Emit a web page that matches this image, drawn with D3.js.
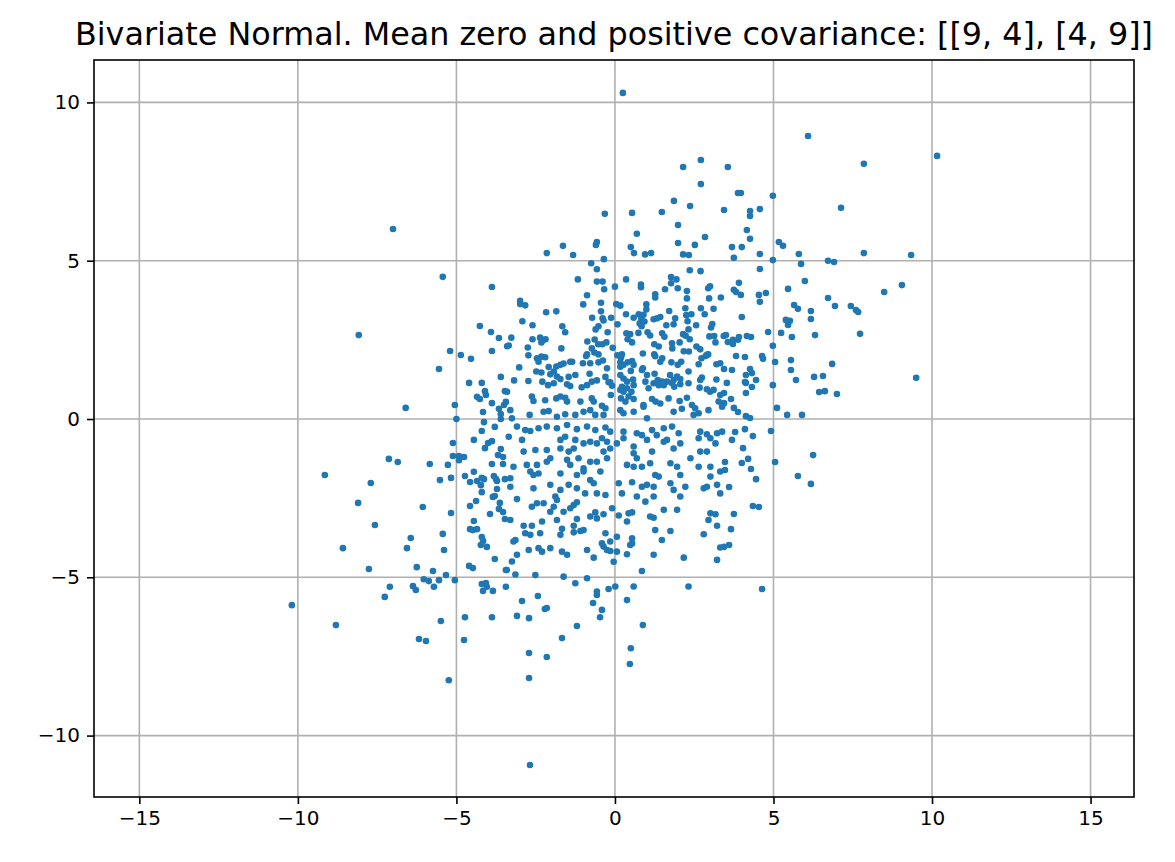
<!DOCTYPE html>
<html>
<head>
<meta charset="utf-8">
<script src="https://cdn.jsdelivr.net/npm/d3@7"></script>
<style>
  body { margin: 0; background: #fff; }
  svg text { font-family: "DejaVu Sans", sans-serif; }
</style>
</head>
<body>
<div id="chart"></div>
<script>
const titleText = "Bivariate Normal. Mean zero and positive covariance: [[9, 4], [4, 9]]";
const xTicks = [-15, -10, -5, 0, 5, 10, 15];
const yTicks = [-10, -5, 0, 5, 10];
const xDomain = [-16.43, 16.37];
const yDomain = [-11.94, 11.34];

// points, upper half (y > 5 roughly) and outliers
const upperPts = [
  [0.25,10.3],[6.09,8.94],[10.16,8.31],[7.85,8.06],[2.71,8.18],[2.15,7.96],[2.71,7.42],
  [1.86,6.89],[2.37,6.73],[1.48,6.54],[0.54,6.51],[-0.32,6.48],[1.99,6.13],[0.69,5.85],
  [1.99,5.56],[2.84,5.75],[2.52,5.5],[0.5,5.43],[-0.57,5.59],[-0.6,5.5],[-1.64,5.47],
  [-2.15,5.24],[-1.32,5.18],[0.6,5.24],[0.95,5.2],[1.14,5.24],[2.15,5.2],[2.33,5.18],
  [3.44,6.6],[3.56,7.96],[3.88,7.14],[3.97,7.14],[4.98,7.05],[4.26,6.57],[4.26,6.41],
  [4.57,6.63],[7.13,6.67],[4.16,5.97],[4.26,5.69],[3.69,5.43],[4.0,5.43],[4.57,5.21],
  [5.17,5.59],[5.3,5.47],[5.8,5.21],[7.85,5.24],[9.34,5.18],[-7.0,6.0]
];

// left side, above zero
const leftUpPts = [
  [-5.43,4.49],[-3.88,4.17],[-8.08,2.65],[-4.26,2.94],[-3.91,2.75],[-3.66,2.56],[-5.2,2.15],
  [-4.86,2.02],[-4.54,1.9],[-3.88,2.15],[-5.55,1.58],[-4.6,1.14],[-4.2,1.14],[-4.1,0.88],
  [-4.07,0.76],[-4.35,0.7],[-4.26,0.63],[-3.6,1.33],[-3.47,0.88],[-3.88,0.5],[-3.44,0.54],
  [-3.5,0.44],[-3.66,0.32],[-3.6,0.16],[-3.6,0.0],[-6.6,0.35],[-5.05,0.44],[-4.16,0.22],
  [-4.13,-0.1],[-5.0,0.0],[-3.4,2.3]
];

// left side, below zero
const leftLowPts = [
  [-9.15,-1.77],[-7.7,-2.02],[-7.13,-1.26],[-6.85,-1.36],[-8.1,-2.65],[-7.57,-3.35],
  [-8.58,-4.08],[-7.76,-4.74],[-6.06,-2.78],[-5.84,-1.42],[-6.44,-3.76],[-6.56,-4.08],
  [-6.25,-4.68],[-5.74,-4.8],[-5.43,-3.63],[-5.39,-4.14],[-5.17,-2.97],[-5.27,-1.45],
  [-5.52,-1.93],[-5.17,-1.86],[-5.11,-0.76],[-5.11,-1.17],[-4.92,-1.17],[-4.76,-1.2],
  [-4.92,-1.3],[-5.33,-4.93],[-6.03,-5.06],[-5.87,-5.12],[-5.55,-5.09],[-5.05,-5.09],
  [-7.1,-5.3],[-6.37,-5.28],[-6.28,-5.4],[-5.71,-5.3],[-4.45,-0.66],[-4.2,-0.38],
  [-3.79,-0.25],[-4.1,-0.92],[-4.0,-0.76],[-3.88,-0.7],[-3.6,-0.95],[-3.69,-1.14],
  [-3.53,-1.2],[-3.88,-1.42],[-3.53,-1.42],[-4.73,-1.8],[-4.45,-1.67],[-4.57,-1.99],
  [-4.35,-1.96],[-4.2,-1.86],[-4.13,-1.9],[-4.23,-2.09],[-4.2,-2.31],[-3.82,-1.8],
  [-3.72,-1.96],[-3.75,-1.9],[-3.47,-1.9],[-3.72,-2.21],[-3.85,-2.46],[-3.79,-2.43],
  [-3.63,-2.65],[-4.38,-2.59],[-4.57,-2.75],[-3.66,-2.84],[-3.53,-2.94],[-3.94,-3.0],
  [-4.45,-3.22],[-4.57,-3.48],[-4.48,-3.51],[-4.35,-3.48],[-3.47,-3.16],[-4.2,-3.73],
  [-4.16,-3.85],[-4.23,-3.98],[-4.04,-4.04],[-3.79,-4.42],[-4.6,-4.64],[-4.48,-4.71],
  [-3.44,-4.77],[-4.2,-5.21],[-4.07,-5.18],[-4.04,-5.3],[-4.16,-5.43],[-3.85,-5.43],
  [-3.44,-5.3]
];

// bottom tail
const lowerPts = [
  [-10.19,-5.88],[-8.8,-6.51],[-7.26,-5.62],[-6.18,-6.95],[-5.96,-7.01],[-5.49,-6.38],
  [-5.24,-8.25],[-4.73,-6.26],[-4.76,-6.98],[-3.88,-6.26],[-2.93,-5.75],[-2.43,-5.59],
  [-3.09,-6.22],[-2.71,-6.29],[-2.21,-6.0],[-2.15,-5.97],[-1.67,-6.92],[-1.2,-6.54],
  [-2.71,-7.39],[-2.15,-7.52],[-2.71,-8.18],[-2.68,-10.93],[-0.69,-5.81],[-0.41,-6.03],
  [-0.47,-6.26],[-0.57,-5.56],[0.38,-5.72],[0.88,-6.51],[0.5,-7.24],[0.47,-7.74]
];

// right side, below zero
const rightLowPts = [
  [3.79,-0.41],[4.1,-0.32],[4.92,-0.38],[4.35,-0.54],[3.69,-0.66],[4.04,-0.92],[3.47,-1.36],
  [3.47,-1.61],[4.0,-1.39],[4.2,-1.26],[4.29,-1.58],[4.45,-1.9],[5.05,-1.36],[6.25,-1.14],
  [5.77,-1.8],[6.18,-2.05],[3.6,-2.15],[4.35,-2.75],[4.54,-2.78],[3.75,-3.0],[3.66,-3.48],
  [3.6,-3.98],[3.44,-4.04],[4.64,-5.37]
];

// right side, above zero
const rightUpPts = [
  [3.75,5.09],[4.98,5.02],[6.72,5.0],[6.91,4.96],[5.87,4.9],[4.57,4.74],[5.99,4.36],
  [3.91,4.3],[3.75,4.08],[3.82,4.01],[3.97,3.92],[4.54,3.92],[4.76,3.98],[4.57,3.7],
  [5.46,4.11],[8.49,4.01],[9.05,4.23],[6.72,3.82],[6.94,3.57],[7.44,3.57],[7.6,3.44],
  [7.67,3.38],[5.65,3.6],[5.77,3.48],[6.18,3.41],[6.18,3.16],[4.0,3.22],[5.39,3.13],
  [5.52,3.1],[5.46,2.97],[7.73,2.69],[6.31,2.65],[5.58,2.59],[5.24,2.72],[4.83,2.75],
  [4.98,2.31],[3.5,2.65],[4.16,2.62],[4.29,2.59],[3.56,2.43],[3.72,2.5],[3.72,2.37],
  [3.88,2.5],[3.91,2.59],[3.82,1.99],[4.1,1.96],[4.64,1.99],[4.67,1.9],[5.05,1.8],
  [5.55,1.86],[6.85,1.74],[5.55,1.55],[3.44,1.58],[3.69,1.55],[4.26,1.58],[4.32,1.45],
  [4.13,1.39],[4.45,1.23],[4.1,1.17],[4.13,1.14],[3.53,1.14],[5.71,1.23],[6.28,1.33],
  [6.56,1.36],[9.5,1.3],[4.32,1.01],[4.98,1.07],[6.44,0.85],[6.62,0.88],[7.0,0.79],
  [4.13,0.82],[3.44,0.82],[3.66,0.63],[3.75,0.35],[3.88,0.22],[3.44,0.5],[5.11,0.35],
  [5.43,0.13],[5.9,0.13],[4.13,0.09],[4.26,0.03]
];

// dense core, upper half
const coreUpPts = [
  [-0.35,5.05],[-0.75,4.92],[-0.57,4.73],[-1.17,4.41],[-0.57,4.34],[-0.39,4.34],[-0.34,4.1],
  [0,4.18],[0.35,4.41],[0.82,4.25],[0.82,4.16],[1.77,4.48],[1.94,4.41],[2.36,4.7],[2.7,4.67],
  [1.77,4.29],[1.98,4.13],[1.58,4.1],[2.27,4.04],[2.94,4.13],[3.0,4.19],[1.27,3.94],
  [1.27,3.84],[2.27,3.81],[2.97,3.81],[3.34,3.84],[-0.88,3.91],[-2.99,3.73],[-2.83,3.59],
  [-2.99,3.63],[-1.0,3.62],[-0.44,3.67],[0.04,3.63],[0.17,3.58],[0.99,3.62],[0.99,3.46],
  [-2.17,3.37],[-1.85,3.4],[-0.44,3.4],[0.35,3.31],[0.59,3.2],[0.75,3.31],[0.83,3.18],
  [0.9,3.29],[1.22,3.15],[1.43,3.22],[1.33,3.18],[1.71,3.41],[2.22,3.5],[2.41,3.31],
  [2.25,3.28],[2.71,3.5],[2.83,3.31],[3.11,3.48],[-0.72,3.2],[-0.36,3.11],[-0.39,3.18],
  [-0.12,3.2],[0.08,2.99],[-2.92,3.09],[-2.6,2.96],[-1.66,2.93],[-1.57,2.74],[-0.61,2.83],
  [-0.52,2.93],[-0.23,2.74],[0.78,3.02],[0.84,2.93],[0.93,3.08],[1.03,2.74],[1.11,2.64],
  [0.74,2.72],[0.36,2.71],[0.48,2.68],[1.62,2.96],[1.85,2.99],[1.9,3.18],[2.29,3.09],
  [2.56,2.96],[2.32,2.83],[3.07,3.0],[3.03,2.89],[1.49,2.71],[1.56,2.6],[2.15,2.68],
  [2.23,2.63],[2.36,2.52],[2.98,2.61],[3.13,2.62],[3.43,2.62],[-3.27,2.57],[-2.6,2.52],
  [-2.36,2.57],[-2.27,2.49],[-2.32,2.42],[-2.19,2.52],[-3.35,2.32],[-2.75,2.26],
  [-1.69,2.23],[-0.87,2.45],[-0.64,2.51],[-0.73,2.23],[-0.88,2.04],[-0.53,2.36],
  [-0.4,2.36],[-0.27,2.42],[-0.07,2.25],[0.4,2.52],[0.54,2.42],[1.24,2.36],[1.38,2.29],
  [1.8,2.39],[2.04,2.42],[1.81,2.23],[2.57,2.29],[3.17,2.42],[2.17,2.14],[2.33,2.13],
  [2.69,2.2],[2.94,2.04],[2.86,1.99],[-2.73,2.01],[1.24,2.04],[1.27,1.98],[0.88,2.07],
  [0.08,2.01],[0.19,1.94],[0.22,2.04],[-0.65,2.1],[-0.52,2.04],[-0.91,1.99],[-2.46,1.92],
  [-2.32,1.97],[-2.2,1.95],[-2.41,1.81],[-1.85,1.66],[-1.72,1.71],[-1.62,1.75],[-1.41,1.81],
  [-1.35,1.81],[-1.01,1.76],[-0.78,1.76],[-0.52,1.79],[-0.38,1.85],[-0.25,1.6],[0.17,1.79],
  [0.17,1.65],[0.27,1.71],[0.4,1.79],[0.54,1.83],[0.59,1.71],[0.88,1.6],[1.43,1.81],
  [1.49,1.92],[1.78,1.79],[1.98,1.71],[2.09,1.81],[2.32,1.5],[2.64,1.73],[2.73,1.92],
  [2.9,2.03],[3.2,1.73],[3.32,1.76],[-3.02,1.63],[-2.48,1.5],[-2.32,1.47],[-2.09,1.64],
  [-2.04,1.41],[-1.93,1.5],[-1.83,1.34],[-1.72,1.26],[-1.46,1.33],[-1.25,1.39],[-0.8,1.43],
  [-0.3,1.33],[-0.2,1.16],[0.17,1.39],[0.27,1.28],[0.38,1.18],[0.22,1.02],[0.5,1.52],
  [0.57,1.25],[0.59,1.07],[0.85,1.55],[1.01,1.39],[1.25,1.43],[1.35,1.23],[1.74,1.39],
  [1.85,1.23],[1.96,1.34],[2.06,1.26],[1.64,1.18],[1.8,1.13],[2.32,1.13],[2.69,1.23],
  [2.74,1.31],[3.2,1.25],[-3.18,1.22],[-2.73,1.2],[-2.29,1.18],[-2.11,1.07],[-1.93,1.13],
  [-1.51,1.1],[-1.41,1.04],[-1.05,1.0],[-0.88,1.07],[-0.73,1.18],[-0.57,1.22],[-0.15,1.16],
  [-0.09,1.05],[0.17,0.92],[0.27,0.86],[0.38,0.97],[0.52,0.86],[0.96,1.18],[1.06,0.97],
  [1.22,1.13],[1.38,1.07],[1.54,1.07],[1.49,1.18],[1.87,1.02],[2.06,1.1],[2.67,0.99],
  [2.9,0.94],[3.0,0.86],[3.11,0.92],[3.32,0.76],[-3.4,0.86],[-2.62,0.71],[-2.57,0.57],
  [-2.2,0.59],[-1.85,0.65],[-1.72,0.71],[-1.57,0.67],[-1.51,0.55],[-1.09,0.55],[-0.73,0.65],
  [-0.67,0.55],[-0.41,0.42],[-0.3,0.34],[-0.13,0.76],[0.19,0.65],[0.33,0.55],[0.43,0.71],
  [0.59,0.63],[0.9,0.44],[1.17,0.63],[1.28,0.55],[1.43,0.49],[1.69,0.65],[2.04,0.57],
  [2.27,0.67],[2.43,0.44],[2.53,0.34],[2.95,0.28],[3.27,0.55],[3.38,0.39],[-3.3,0.28],
  [-3.25,0.02],[-2.69,0.13],[-2.25,0.23],[-2.09,0.25],[-1.83,0.07],[-1.57,0.15],[-1.25,0.13],
  [-0.99,0.23],[-0.78,0.28],[-0.62,0.13],[-0.36,0.13],[0.17,0.28],[0.27,0.18],[0.59,0.23],
  [0.9,0.39],[1.01,0.02],[1.85,0.23],[2.11,0.32],[2.48,0.13],[2.64,0.18]
];

// dense core, lower half
const coreLowPts = [
  [-3.09,-0.24],[-2.83,-0.35],[-2.67,-0.38],[-2.41,-0.29],[-2.15,-0.24],[-1.83,-0.29],
  [-1.51,-0.19],[-1.2,-0.32],[-0.88,-0.24],[-0.62,-0.35],[-0.3,-0.27],[-0.15,-0.4],
  [0.27,-0.4],[0.69,-0.45],[0.85,-0.51],[1.17,-0.35],[1.32,-0.51],[1.54,-0.29],[1.8,-0.24],
  [2.01,-0.45],[2.69,-0.4],[2.9,-0.48],[3.22,-0.45],[3.38,-0.4],[-3.35,-0.56],[-2.93,-0.66],
  [-1.72,-0.66],[-1.57,-0.56],[-1.25,-0.66],[-0.99,-0.77],[-0.78,-0.72],[-0.57,-0.77],
  [-0.41,-0.61],[-0.25,-0.72],[0.06,-0.77],[0.27,-0.61],[0.59,-0.87],[1.01,-0.66],
  [1.17,-1.03],[1.54,-0.72],[1.64,-0.66],[1.85,-0.93],[2.06,-0.77],[2.64,-0.61],[3.01,-0.61],
  [2.69,-1.03],[2.9,-1.03],[3.17,-0.77],[-2.51,-0.98],[-2.15,-0.98],[-1.72,-0.93],
  [-1.46,-1.03],[-1.3,-0.93],[-1.15,-1.24],[-0.78,-1.35],[-0.36,-1.03],[-0.15,-0.93],
  [-2.88,-1.03],[-3.2,-1.51],[-2.78,-1.45],[-2.46,-1.45],[-2.15,-1.35],[-2.04,-1.24],
  [-1.51,-1.29],[-1.41,-1.45],[-0.99,-1.56],[-0.57,-1.35],[-0.25,-1.24],[0.59,-1.08],
  [0.69,-1.24],[0.38,-1.45],[0.59,-1.51],[0.85,-1.51],[1.11,-1.4],[1.75,-1.4],[1.96,-1.51],
  [2.38,-1.24],[2.64,-1.51],[3.01,-1.51],[2.06,-1.77],[3.32,-1.66],[-3.3,-1.87],[-2.67,-1.66],
  [-2.57,-1.77],[-2.41,-1.72],[-1.72,-1.72],[-1.2,-1.77],[-0.99,-1.66],[-0.78,-1.93],
  [-0.67,-2.03],[-0.46,-1.66],[-3.3,-2.14],[-2.57,-2.19],[-2.04,-2.08],[-1.72,-2.24],
  [-1.46,-2.08],[-1.2,-2.19],[-0.94,-2.35],[-0.57,-2.35],[-0.3,-2.4],[0.12,-2.03],
  [0.22,-2.35],[0.54,-2.0],[0.85,-2.14],[1.01,-2.08],[1.27,-1.77],[1.38,-1.82],[1.22,-2.14],
  [0.69,-2.45],[0.96,-2.61],[1.22,-2.45],[1.75,-2.03],[1.85,-2.24],[2.22,-2.14],[2.8,-2.19],
  [2.9,-2.14],[3.01,-1.82],[3.22,-2.08],[3.32,-2.35],[2.06,-2.45],[-1.88,-2.45],[-1.83,-2.56],
  [-3.09,-2.53],[-2.62,-2.77],[-2.46,-2.66],[-2.25,-2.66],[-2.04,-2.93],[-1.93,-2.77],
  [-1.62,-2.93],[-1.41,-2.82],[-1.3,-2.72],[-1.2,-2.63],[-0.78,-3.08],[-0.62,-2.95],
  [-0.57,-3.14],[-0.36,-3.01],[-0.09,-2.82],[0.12,-3.05],[0.43,-2.98],[0.54,-2.95],
  [0.38,-3.24],[1.11,-3.08],[1.22,-3.12],[1.54,-2.87],[1.96,-2.87],[3.01,-2.98],[3.17,-3.01],
  [2.95,-3.19],[-3.3,-3.19],[-2.88,-3.37],[-2.62,-3.37],[-2.3,-3.24],[-1.83,-3.19],
  [-1.2,-3.16],[-1.3,-3.37],[-2.83,-3.61],[-2.67,-3.66],[-2.36,-3.61],[-1.72,-3.66],
  [-1.67,-3.47],[-1.3,-3.58],[-1.09,-3.54],[-0.99,-3.51],[-0.3,-3.61],[-0.15,-3.87],
  [-0.41,-3.93],[-0.36,-4.03],[0.06,-3.72],[1.27,-3.51],[1.75,-3.54],[1.48,-3.82],[2.8,-3.64],
  [3.22,-3.37],[-3.2,-3.87],[-3.14,-3.82],[-2.72,-4.14],[-2.41,-4.08],[-2.3,-4.19],
  [-2.04,-4.08],[-1.67,-4.19],[-1.51,-4.29],[-0.88,-4.14],[-0.67,-4.38],[-0.25,-4.14],
  [-0.15,-4.17],[0.06,-4.19],[0.54,-3.77],[0.54,-3.93],[0.48,-3.98],[0.38,-4.27],[1.22,-4.29],
  [2.17,-4.38],[3.22,-4.45],[3.32,-4.06],[-3.25,-4.5],[-3.09,-4.29],[-3.41,-4.77],
  [-3.14,-4.91],[-2.51,-4.93],[-1.62,-4.98],[-1.25,-5.19],[-0.88,-5.03],[-0.57,-5.45],
  [-0.2,-5.37],[-0.04,-4.51],[0.01,-5.29],[0.59,-5.29],[0.85,-4.8],[2.32,-5.29]
];

const allPts = [].concat(upperPts, leftUpPts, leftLowPts, lowerPts, rightLowPts, rightUpPts, coreUpPts, coreLowPts);

const W = 1175, H = 862;
const margin = { left: 94, right: 41, top: 60, bottom: 65 };

const svg = d3.select("#chart").append("svg")
  .attr("width", W)
  .attr("height", H);

const x = d3.scaleLinear().domain(xDomain).range([margin.left, W - margin.right]);
const y = d3.scaleLinear().domain(yDomain).range([H - margin.bottom, margin.top]);

const fmt = d => (d < 0 ? "\u2212" + Math.abs(d) : String(d));

// grid
const grid = svg.append("g");
grid.selectAll("line.gx").data(xTicks).enter().append("line")
  .attr("x1", d => x(d)).attr("x2", d => x(d))
  .attr("y1", margin.top).attr("y2", H - margin.bottom)
  .attr("stroke", "#b0b0b0").attr("stroke-width", 1.6);
grid.selectAll("line.gy").data(yTicks).enter().append("line")
  .attr("y1", d => y(d)).attr("y2", d => y(d))
  .attr("x1", margin.left).attr("x2", W - margin.right)
  .attr("stroke", "#b0b0b0").attr("stroke-width", 1.6);

// points
svg.append("g").selectAll("circle").data(allPts).enter().append("circle")
  .attr("cx", d => x(d[0]))
  .attr("cy", d => y(d[1]))
  .attr("r", 3.3)
  .attr("fill", "#1f77b4");

// axes
const xAxis = svg.append("g")
  .attr("transform", `translate(0,${H - margin.bottom})`)
  .call(d3.axisBottom(x).tickValues(xTicks).tickFormat(fmt).tickSize(7).tickPadding(7));
const yAxis = svg.append("g")
  .attr("transform", `translate(${margin.left},0)`)
  .call(d3.axisLeft(y).tickValues(yTicks).tickFormat(fmt).tickSize(7).tickPadding(7));

[xAxis, yAxis].forEach(a => {
  a.select(".domain").remove();
  a.selectAll(".tick line").attr("stroke", "#000").attr("stroke-width", 1.6);
  a.selectAll(".tick text").attr("fill", "#000").style("font-size", "20px");
});

// frame
svg.append("rect")
  .attr("x", margin.left).attr("y", margin.top)
  .attr("width", W - margin.left - margin.right)
  .attr("height", H - margin.top - margin.bottom)
  .attr("fill", "none").attr("stroke", "#000").attr("stroke-width", 1.6);

svg.append("text")
  .attr("x", (margin.left + W - margin.right) / 2)
  .attr("y", 45)
  .attr("text-anchor", "middle")
  .style("font-size", "31.8px")
  .text(titleText);
</script>
</body>
</html>
